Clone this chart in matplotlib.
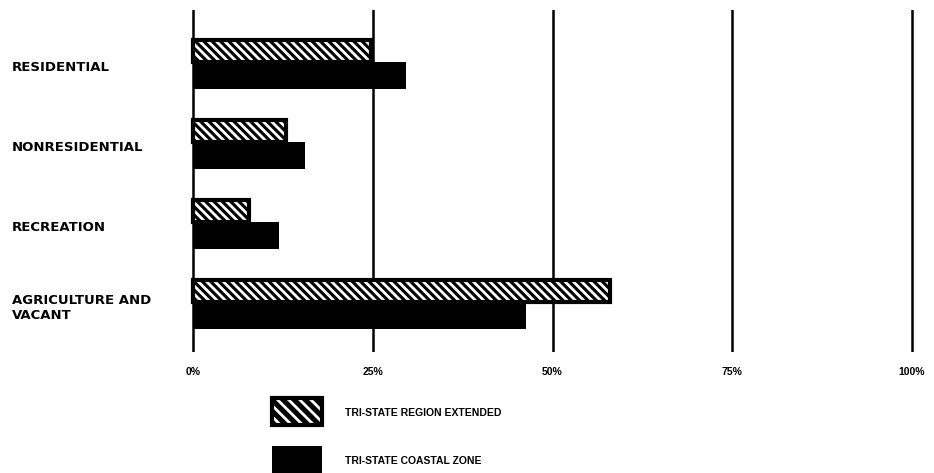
import matplotlib.pyplot as plt
from matplotlib.patches import Rectangle
from matplotlib.transforms import blended_transform_factory

categories = ["RESIDENTIAL", "NONRESIDENTIAL", "RECREATION", "AGRICULTURE AND\nVACANT"]
region_extended = [24.8, 12.9, 7.8, 58.0]   # hatched
coastal_zone = [29.6, 15.6, 12.0, 46.3]     # solid black
ticks = [0, 25, 50, 75, 100]
tick_labels = ["0%", "25%", "50%", "75%", "100%"]
legend_labels = ["TRI-STATE REGION EXTENDED", "TRI-STATE COASTAL ZONE"]

plt.rcParams['hatch.linewidth'] = 2.0
narrow = ['Liberation Sans', 'DejaVu Sans']

W, H = 934, 473
px = 719 / 100.0  # pixels per percent
fig = plt.figure(figsize=(W / 100, H / 100), dpi=100)
ax = fig.add_axes([(193 - 2 * px) / W, 1 - 352 / H, 104 * px / W, (352 - 10) / H])

y = list(range(len(categories)))
h1, h2 = 0.28, 0.34

# gridlines behind the bars
for t in ticks:
    ax.axvline(t, color='black', lw=1.8, zorder=1)

ax.barh([i - h1 / 2 for i in y], region_extended, height=h1, color='black',
        edgecolor='white', hatch='\\\\\\\\', lw=0, zorder=2)
ax.barh([i - h1 / 2 for i in y], region_extended, height=h1, fill=False,
        edgecolor='black', lw=3, zorder=3)
ax.barh([i + h2 / 2 for i in y], coastal_zone, height=h2, color='black', lw=0, zorder=2)

ax.set_xlim(-2, 102)
ax.set_ylim(3.625, -0.65)
ax.set_xticks(ticks, tick_labels)
ax.tick_params(axis='x', length=0, pad=11, labelsize=7.5)
for lab in ax.get_xticklabels():
    lab.set_fontweight('bold')
    lab.set_family(narrow)
ax.set_yticks([])
for s in ax.spines.values():
    s.set_visible(False)

tr = blended_transform_factory(fig.transFigure, ax.transData)
for i, c in enumerate(categories):
    ax.text(12 / W, i + 0.07, c, transform=tr, ha='left', va='center',
            fontsize=9.5, fontweight='bold', linespacing=1.2)

# legend
fig.patches.append(Rectangle((272 / W, 1 - 425 / H), 50 / W, 27 / H, transform=fig.transFigure,
                             facecolor='black', edgecolor='white', hatch='\\\\\\', lw=0))
fig.patches.append(Rectangle((272 / W, 1 - 425 / H), 50 / W, 27 / H, transform=fig.transFigure,
                             fill=False, edgecolor='black', lw=3))
fig.patches.append(Rectangle((272 / W, 1 - 473 / H), 50 / W, 27 / H, transform=fig.transFigure,
                             facecolor='black', lw=0))
fig.text(345 / W, 1 - 413 / H, legend_labels[0], ha='left', va='center',
         fontsize=7.5, fontweight='bold', family=narrow)
fig.text(345 / W, 1 - 461 / H, legend_labels[1], ha='left', va='center',
         fontsize=7.5, fontweight='bold', family=narrow)

fig.savefig('out.png', dpi=100)
